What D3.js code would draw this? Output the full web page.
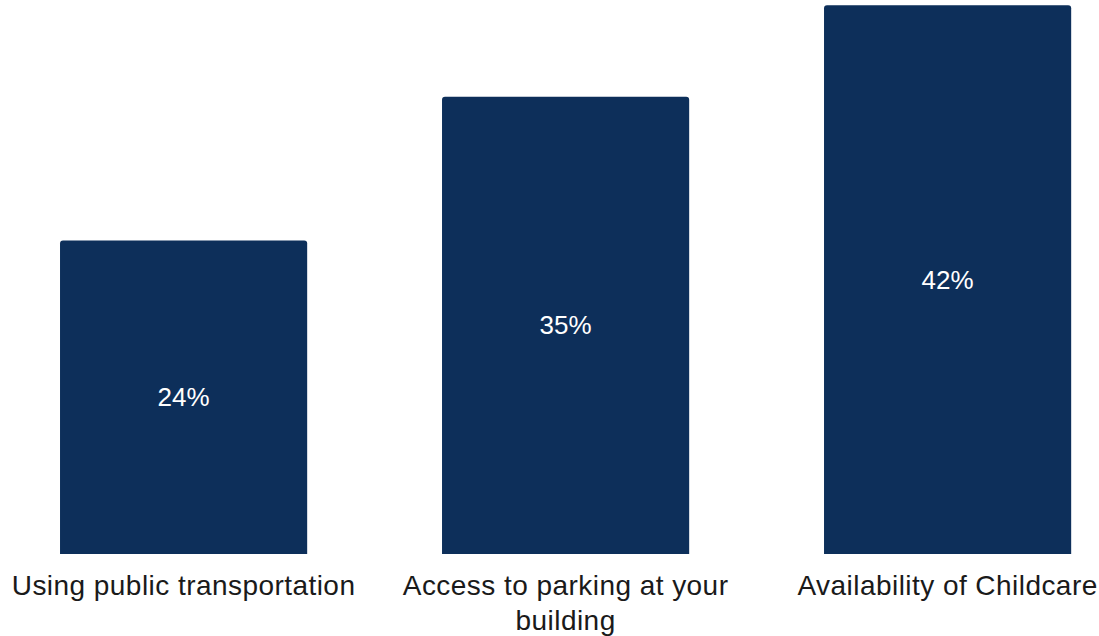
<!DOCTYPE html>
<html>
<head>
<meta charset="utf-8">
<script src="https://cdn.jsdelivr.net/npm/d3@7"></script>
<style>
  html, body { margin: 0; padding: 0; background: #ffffff; }
  svg { display: block; }
</style>
</head>
<body>
<svg id="chart" width="1099" height="636"></svg>
<script>
const categories = ["Using public transportation", "Access to parking at your building", "Availability of Childcare"];
const categoryLines = [["Using public transportation"], ["Access to parking at your", "building"], ["Availability of Childcare"]];
const values = [24, 35, 42];
const valueLabels = ["24%", "35%", "42%"];

const W = 1099, H = 636;
const svg = d3.select("#chart");

const x = d3.scaleBand()
  .domain(categories)
  .range([-7.4, 1138.6])
  .paddingInner(0.353)
  .paddingOuter(0.1765);

const y = d3.scaleLinear().domain([0, 42.4]).range([554, 0]);

const r = 3;
function barPath(x0, y0, w, h) {
  return `M${x0},${y0 + h} L${x0},${y0 + r} Q${x0},${y0} ${x0 + r},${y0} L${x0 + w - r},${y0} Q${x0 + w},${y0} ${x0 + w},${y0 + r} L${x0 + w},${y0 + h} Z`;
}

const data = categories.map((c, i) => ({ c, v: values[i], label: valueLabels[i], lines: categoryLines[i] }));

svg.selectAll("path.bar").data(data).join("path")
  .attr("class", "bar")
  .attr("fill", "#0d2f5a")
  .attr("d", d => barPath(x(d.c), y(d.v), x.bandwidth(), y(0) - y(d.v)));

svg.selectAll("text.val").data(data).join("text")
  .attr("class", "val")
  .attr("x", d => x(d.c) + x.bandwidth() / 2)
  .attr("y", d => (y(d.v) + y(0)) / 2)
  .attr("dy", "0.35em")
  .attr("text-anchor", "middle")
  .attr("fill", "#ffffff")
  .attr("font-family", "'Liberation Sans', Arial, sans-serif")
  .attr("font-size", 26)
  .text(d => d.label);

const cat = svg.selectAll("text.cat").data(data).join("text")
  .attr("class", "cat")
  .attr("text-anchor", "middle")
  .attr("fill", "#1a1a1a")
  .attr("font-family", "'Liberation Sans', Arial, sans-serif")
  .attr("font-size", 28)
  .attr("letter-spacing", "0.45px");

cat.selectAll("tspan").data(d => d.lines.map(l => ({ l, cx: x(d.c) + x.bandwidth() / 2 }))).join("tspan")
  .attr("x", d => d.cx)
  .attr("y", (d, i) => 595 + i * 35)
  .text(d => d.l);
</script>
</body>
</html>
